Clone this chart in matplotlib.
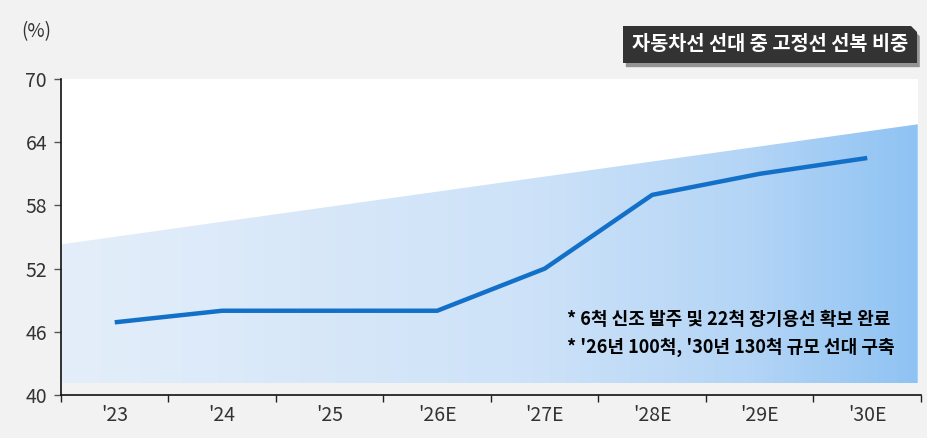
import numpy as np
import matplotlib
matplotlib.use("Agg")
import matplotlib.pyplot as plt
from matplotlib.colors import LinearSegmentedColormap
from matplotlib.patches import Polygon, Rectangle
import matplotlib.patheffects as pe

plt.rcParams['font.family'] = ['Noto Sans CJK KR', 'DejaVu Sans']

years = ["'23", "'24", "'25", "'26E", "'27E", "'28E", "'29E", "'30E"]
share = [46.9, 48.0, 48.0, 48.0, 52.0, 59.0, 61.0, 62.5]
yticks = [40, 46, 52, 58, 64, 70]
title = "자동차선 선대 중 고정선 선복 비중"
notes = ["* 6척 신조 발주 및 22척 장기용선 확보 완료",
         "* '26년 100척, '30년 130척 규모 선대 구축"]

BG = "#f2f2f2"
LINE = "#1270c8"

fig = plt.figure(figsize=(9.28, 4.38), dpi=100, facecolor=BG)
ax = fig.add_axes([61 / 928, 1 - 395 / 438, 860 / 928, 316 / 438])
ax.set_facecolor(BG)

x = np.arange(len(years))
x0, x1 = -0.5, 7.47
y_bot = 41.1

# white panel behind the wedge
ax.add_patch(Rectangle((x0, y_bot), x1 - x0, 70 - y_bot, facecolor="white",
                       edgecolor="none", zorder=0))

# gradient wedge
cmap = LinearSegmentedColormap.from_list(
    "wedge", [(0, "#e4eefa"), (0.55, "#cde2f8"), (0.8, "#b4d5f6"), (1, "#8fc3f3")])
grad = np.linspace(0, 1, 256).reshape(1, -1)
im = ax.imshow(grad, extent=[x0, x1, y_bot, 70], aspect="auto", cmap=cmap,
               origin="lower", zorder=1)
wedge = Polygon([(x0, y_bot), (x0, 54.3), (x1, 65.7), (x1, y_bot)],
                closed=True, facecolor="none", edgecolor="none")
ax.add_patch(wedge)
im.set_clip_path(wedge)

ax.plot(x, share, color=LINE, lw=3.2, solid_capstyle="butt", zorder=3)

ax.set_xlim(-0.5, 7.5)
ax.set_ylim(40, 70)
ax.set_yticks(yticks)
ax.set_yticklabels([str(v) for v in yticks])
ax.set_xticks(np.arange(-0.5, 8, 1))
ax.set_xticklabels([])
ax.set_xticks(x, minor=True)
ax.set_xticklabels(years, minor=True)
ax.tick_params(axis="x", which="minor", length=0, pad=7, labelsize=14, labelcolor="#333333")
ax.tick_params(axis="x", which="major", length=5, width=1, color="#222222", direction="out")
ax.tick_params(axis="y", length=5, width=1, color="#555555", pad=5, labelsize=14,
               labelcolor="#333333")

for s in ["top", "right"]:
    ax.spines[s].set_visible(False)
for s in ["left", "bottom"]:
    ax.spines[s].set_color("#111111")
    ax.spines[s].set_linewidth(1.2)

fig.text(21 / 928, 1 - 32 / 438, "(%)", fontsize=13.5, color="#333333", va="center")

# title box
bx0, by0, bw, bh = 623 / 928, 1 - 63 / 438, 294 / 928, 37 / 438
cut = 6 / 928
cuty = 6 / 438
pts = [(bx0, by0), (bx0 + bw, by0), (bx0 + bw, by0 + bh - cuty),
       (bx0 + bw - cut, by0 + bh), (bx0, by0 + bh)]
box = Polygon(pts, closed=True, transform=fig.transFigure, facecolor="#333333",
              edgecolor="none", zorder=5,
              path_effects=[pe.SimplePatchShadow(offset=(2, -3), shadow_rgbFace="#555555",
                                                 alpha=0.6), pe.Normal()])
fig.patches.append(box)
fig.text(bx0 + bw / 2, by0 + bh / 2, title, ha="center", va="center", color="white",
         fontsize=14.2, fontweight="bold", zorder=6)

ax.text(4.21, 47.2, notes[0], fontsize=13, fontweight="heavy", color="black",
        va="center", zorder=4)
ax.text(4.21, 44.55, notes[1], fontsize=13, fontweight="heavy", color="black",
        va="center", zorder=4)

fig.savefig("out.png", dpi=100, facecolor=BG)
